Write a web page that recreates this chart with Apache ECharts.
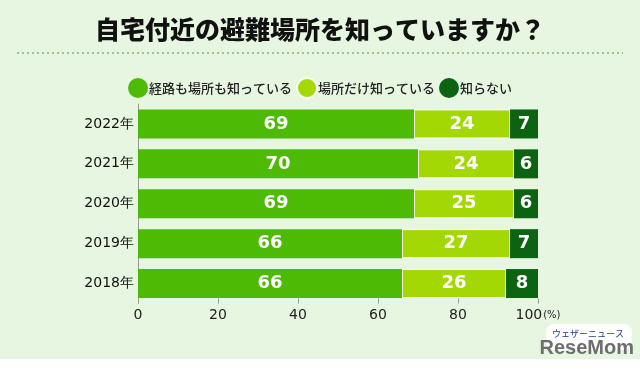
<!DOCTYPE html>
<html>
<head>
<meta charset="utf-8">
<script src="https://cdn.jsdelivr.net/npm/echarts@6/dist/echarts.min.js"></script>
<style>html,body{margin:0;padding:0;background:#fff}#c{width:640px;height:373px}</style>
</head>
<body>
<div id="c"></div>
<script>
var years = ['2022年','2021年','2020年','2019年','2018年'];
var seriesNames = ['経路も場所も知っている','場所だけ知っている','知らない'];
var both = [69,70,69,66,66];
var placeOnly = [24,24,25,27,26];
var dontKnow = [7,6,6,7,8];
var colors = ['#4dbb06','#a4d805','#0c6413'];
var titleText = '自宅付近の避難場所を知っていますか？';

var chart = echarts.init(document.getElementById('c'), null, {renderer:'canvas'});
var valLabel = {show:true, position:'inside', color:'#fff', fontFamily:'DejaVu Sans', fontWeight:'bold', fontSize:18};
function mk(i, data){
  var s = {name:seriesNames[i], type:'bar', stack:'t', data:data, barWidth:29,
    itemStyle:{color:colors[i]}, label:valLabel};
  if(i===1){ s.itemStyle.borderColor='rgba(255,255,255,0.85)'; s.itemStyle.borderWidth=1; }
  return s;
}
chart.setOption({
  backgroundColor:'#e6f6e0',
  animation:false,
  title:{text:titleText, left:'center', top:12,
    textStyle:{fontFamily:'Noto Sans CJK JP', fontWeight:900, fontSize:25, color:'#111'}},
  legend:{left:'center', top:72, icon:'circle', itemWidth:20, itemHeight:20, itemGap:4,
    textStyle:{fontFamily:'Noto Sans CJK JP', fontWeight:500, fontSize:13, color:'#222', padding:[0,0,0,-4]},
    data:seriesNames},
  grid:{left:138, right:102, top:104, bottom:69.5},
  xAxis:{type:'value', min:0, max:100, interval:20,
    axisLine:{show:false}, splitLine:{show:false},
    axisTick:{show:true, inside:true, length:5, lineStyle:{color:'#999'}},
    axisLabel:{margin:5, color:'#222', fontFamily:'DejaVu Sans', fontSize:14,
      formatter:function(v){ return v===100 ? '{a|100}{b|(%)}' : String(v); },
      rich:{a:{fontFamily:'DejaVu Sans', fontSize:14, color:'#222'},
            b:{fontFamily:'DejaVu Sans', fontSize:10, color:'#222', padding:[0,0,0,1]}}}},
  yAxis:{type:'category', data:years, inverse:true,
    axisLine:{show:true, lineStyle:{color:'#999', width:1}},
    axisTick:{show:false},
    axisLabel:{margin:4, color:'#111', fontFamily:'DejaVu Sans', fontSize:14}},
  graphic:[
    {type:'line', shape:{x1:17, y1:53, x2:623, y2:53},
     style:{stroke:'#9cc48c', lineWidth:2, lineDash:[2,3]}, silent:true},
    {type:'rect', shape:{x:0, y:359, width:640, height:14}, style:{fill:'#ffffff'}, silent:true},
    {type:'rect', shape:{x:546, y:324, width:86, height:26, r:8}, style:{fill:'#ffffff'}, silent:true},
    {type:'text', left:552, top:329, style:{text:'ウェザーニュース', fontSize:9, fill:'#1a3a8a', fontFamily:'Noto Sans CJK JP'}, silent:true},
    {type:'text', right:6, top:338, style:{text:'ReseMom', fontSize:20, fontWeight:'bold', fill:'#6e6e6e', fontFamily:'Liberation Sans Narrow, Liberation Sans'}, silent:true}
  ],
  series:[mk(0,both), mk(1,placeOnly), mk(2,dontKnow)]
});
</script>
</body>
</html>
